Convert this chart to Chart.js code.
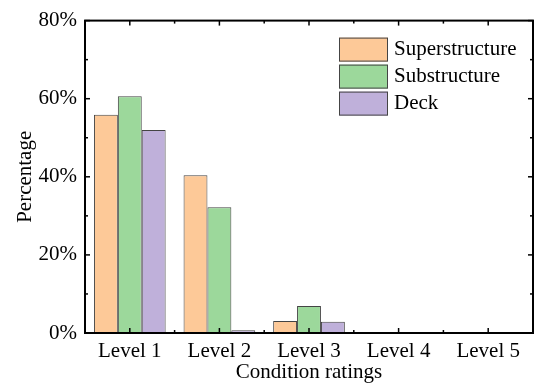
<!DOCTYPE html>
<html>
<head>
<meta charset="utf-8">
<script src="https://cdn.jsdelivr.net/npm/chart.js@4"></script>
<style>
  html, body { margin: 0; padding: 0; background: #fff; }
  #wrap { width: 550px; height: 391px; }
</style>
</head>
<body>
<div id="wrap"><canvas id="chart"></canvas></div>
<script>
const categories = ['Level 1', 'Level 2', 'Level 3', 'Level 4', 'Level 5'];
const superstructure = [55.9, 40.4, 3.1, 0, 0];
const substructure = [60.6, 32.2, 6.9, 0, 0];
const deck = [52.0, 0.7, 2.9, 0, 0];
const yMajorTicks = [0, 20, 40, 60, 80];
const yMinorTicks = [10, 30, 50, 70];

const FONT = "'Liberation Serif', 'Times New Roman', serif";

// frame + inward ticks on all four sides, like the original plot
const frameTicks = {
    id: 'frameTicks',
    afterDatasetsDraw(chart) {
        const { ctx, chartArea: a, scales: { x, y } } = chart;
        ctx.save();
        ctx.strokeStyle = '#000';
        ctx.lineWidth = 1.5;

        const line = (x1, y1, x2, y2) => {
            ctx.beginPath();
            ctx.moveTo(x1, y1);
            ctx.lineTo(x2, y2);
            ctx.stroke();
        };

        yMajorTicks.forEach(v => {
            const py = y.getPixelForValue(v);
            line(a.left, py, a.left + 5, py);
            line(a.right, py, a.right - 5, py);
        });
        yMinorTicks.forEach(v => {
            const py = y.getPixelForValue(v);
            line(a.left, py, a.left + 3, py);
            line(a.right, py, a.right - 3, py);
        });

        categories.forEach((c, i) => {
            const px = x.getPixelForValue(i);
            line(px, a.bottom, px, a.bottom - 5);
            line(px, a.top, px, a.top + 5);
            if (i > 0) {
                const mx = (x.getPixelForValue(i - 1) + px) / 2;
                line(mx, a.bottom, mx, a.bottom - 3);
                line(mx, a.top, mx, a.top + 3);
            }
        });

        ctx.lineWidth = 2;
        ctx.strokeRect(a.left, a.top, a.right - a.left, a.bottom - a.top);
        ctx.restore();
    }
};

// legend boxes inside the plot, top right
const innerLegend = {
    id: 'innerLegend',
    afterDraw(chart) {
        const { ctx, chartArea: a } = chart;
        const left = a.right - 194;
        const top = a.top + 17;
        ctx.save();
        ctx.font = '21px ' + FONT;
        ctx.textBaseline = 'middle';
        chart.data.datasets.forEach((ds, i) => {
            const by = top + i * 27;
            ctx.fillStyle = ds.backgroundColor;
            ctx.fillRect(left, by, 49, 24);
            ctx.strokeStyle = '#444';
            ctx.lineWidth = 1;
            ctx.strokeRect(left + 0.5, by + 0.5, 48, 23);
            ctx.fillStyle = '#000';
            ctx.fillText(ds.label, left + 55, by + 12);
        });
        ctx.restore();
    }
};

new Chart(document.getElementById('chart'), {
    type: 'bar',
    data: {
        labels: categories,
        datasets: [
            { label: 'Superstructure', data: superstructure, backgroundColor: 'rgb(253,201,152)' },
            { label: 'Substructure', data: substructure, backgroundColor: 'rgb(156,216,155)' },
            { label: 'Deck', data: deck, backgroundColor: 'rgb(191,176,218)' }
        ]
    },
    options: {
        responsive: true,
        maintainAspectRatio: false,
        animation: false,
        devicePixelRatio: 1,
        layout: { padding: { top: 18, right: 17, left: 0, bottom: 0 } },
        datasets: {
            bar: {
                borderColor: '#444',
                borderWidth: 1,
                borderSkipped: 'start',
                categoryPercentage: 0.8,
                barPercentage: 1.0
            }
        },
        plugins: {
            legend: { display: false },
            tooltip: { enabled: false }
        },
        scales: {
            x: {
                grid: { display: false, drawTicks: false },
                border: { display: false },
                ticks: { color: '#000', font: { family: FONT, size: 21 }, padding: 6 },
                title: {
                    display: true,
                    text: 'Condition ratings',
                    color: '#000',
                    font: { family: FONT, size: 21 },
                    padding: { top: 0, bottom: 6 }
                },
                afterFit(scale) { scale.height = 58; }
            },
            y: {
                min: 0,
                max: 80,
                grid: { display: false, drawTicks: false },
                border: { display: false },
                ticks: {
                    stepSize: 20,
                    color: '#000',
                    font: { family: FONT, size: 21 },
                    padding: 8,
                    callback: v => v + '%'
                },
                title: {
                    display: true,
                    text: 'Percentage',
                    color: '#000',
                    font: { family: FONT, size: 21 },
                    padding: { top: 13, bottom: 4 }
                },
                afterFit(scale) { scale.width = 85; }
            }
        }
    },
    plugins: [frameTicks, innerLegend]
});
</script>
</body>
</html>
